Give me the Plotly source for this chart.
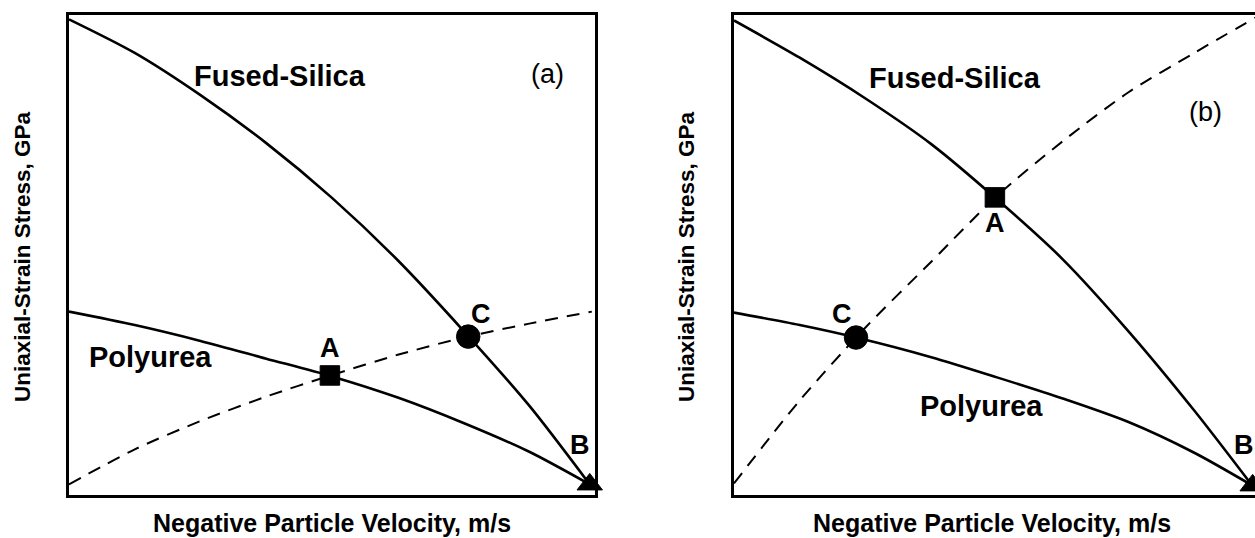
import plotly.graph_objects as go

# ---------------- data (arbitrary normalized units) ----------------
# Panel (a)
fs_a_vel = [0, 12.5, 25, 37.5, 50, 62.5, 75, 87.5, 99.0]
fs_a_stress = [99.0, 92.0, 83.2, 73.2, 61.8, 48.8, 34.1, 18.5, 2.1]
pu_a_vel = [0, 12.5, 25, 37.5, 50, 62.5, 75, 87.5, 99.0]
pu_a_stress = [38.1, 35.3, 32.0, 28.3, 24.6, 20.2, 14.9, 8.9, 2.1]
dash_a_vel = [0, 12.5, 25, 37.5, 50, 62.5, 75, 87.5, 99.4]
dash_a_stress = [2.1, 9.4, 15.3, 20.4, 24.9, 29.1, 32.7, 35.6, 38.1]
pts_a_labels = ["A", "C", "B"]
pts_a_vel = [49.6, 75.9, 99.0]
pts_a_stress = [24.8, 32.9, 2.1]

# Panel (b)
fs_b_vel = [0, 12.5, 25, 37.5, 50, 62.5, 75, 87.5, 98.5]
fs_b_stress = [98.75, 91.0, 82.5, 73.0, 61.5, 49.0, 34.0, 17.5, 1.9]
pu_b_vel = [0, 12.5, 23.2, 37.5, 50, 62.5, 75, 87.5, 98.5]
pu_b_stress = [37.9, 35.3, 32.7, 28.6, 24.4, 20.0, 15.1, 8.7, 1.9]
dash_b_vel = [0, 12.5, 25, 37.5, 50, 62.5, 75, 87.5, 99.2]
dash_b_stress = [2.3, 19.6, 34.8, 48.5, 62.2, 73.6, 83.8, 92.0, 99.4]
pts_b_labels = ["A", "C", "B"]
pts_b_vel = [49.6, 23.2, 98.6]
pts_b_stress = [61.9, 32.7, 1.9]

marker_symbols = ["square", "circle", "triangle-up"]
marker_sizes = [19.5, 23.5, 22]

FONT = "Liberation Sans, Arial, sans-serif"
W, H = 1255, 538

fig = go.Figure()

def add_panel(xa, ya, fsx, fsy, pux, puy, dx, dy, px, py):
    solid = dict(color="black", width=2.6, shape="spline", smoothing=0.8)
    fig.add_trace(go.Scatter(x=fsx, y=fsy, mode="lines", xaxis=xa, yaxis=ya,
                             line=solid, showlegend=False, hoverinfo="skip"))
    fig.add_trace(go.Scatter(x=pux, y=puy, mode="lines", xaxis=xa, yaxis=ya,
                             line=solid, showlegend=False, hoverinfo="skip"))
    fig.add_trace(go.Scatter(x=dx, y=dy, mode="lines", xaxis=xa, yaxis=ya,
                             line=dict(color="black", width=2, dash="13px,9px",
                                       shape="spline", smoothing=0.8),
                             showlegend=False, hoverinfo="skip"))
    fig.add_trace(go.Scatter(x=px, y=py, mode="markers", xaxis=xa, yaxis=ya,
                             marker=dict(symbol=marker_symbols, size=marker_sizes,
                                         color="black", opacity=1,
                                         line=dict(color="black", width=1)),
                             cliponaxis=False, showlegend=False, hoverinfo="skip"))

add_panel("x", "y", fs_a_vel, fs_a_stress, pu_a_vel, pu_a_stress,
          dash_a_vel, dash_a_stress, pts_a_vel, pts_a_stress)
add_panel("x2", "y2", fs_b_vel, fs_b_stress, pu_b_vel, pu_b_stress,
          dash_b_vel, dash_b_stress, pts_b_vel, pts_b_stress)

y_dom = [(H - 494.5) / H, (H - 14.5) / H]
ax_common = dict(showgrid=False, zeroline=False, showticklabels=False, ticks="",
                 showline=True, linecolor="black", linewidth=3)

fig.update_layout(
    width=W, height=H,
    margin=dict(l=0, r=0, t=0, b=0),
    paper_bgcolor="white", plot_bgcolor="white",
    showlegend=False,
    xaxis=dict(domain=[69 / W, 595 / W], range=[0, 100], mirror=True, **ax_common),
    yaxis=dict(domain=y_dom, range=[0, 100], mirror=True, **ax_common),
    xaxis2=dict(domain=[734 / W, 1.0], range=[0, (W - 734) / 526 * 100], mirror=True,
                anchor="y2", **ax_common),
    yaxis2=dict(domain=y_dom, range=[0, 100], mirror=False, anchor="x2", **ax_common),
)

def txt(text, x, y, xref, yref, size, bold=True, angle=0):
    fig.add_annotation(text=f"<b>{text}</b>" if bold else text, x=x, y=y,
                       xref=xref, yref=yref, showarrow=False, textangle=angle,
                       font=dict(family=FONT, size=size, color="black"),
                       xanchor="center", yanchor="middle")

# panel (a) labels
txt("Fused-Silica", 40.2, 87.1, "x", "y", 29)
txt("(a)", 90.9, 87.5, "x", "y", 27, bold=False)
txt("Polyurea", 15.4, 28.75, "x", "y", 29)
for lab, lx, ly in zip(pts_a_labels, [49.6, 78.3, 97.1], [30.6, 37.7, 10.4]):
    txt(lab, lx, ly, "x", "y", 27)

# panel (b) labels
txt("Fused-Silica", 42.0, 86.7, "x2", "y2", 29)
txt("(b)", 89.7, 79.6, "x2", "y2", 27, bold=False)
txt("Polyurea", 47.1, 18.5, "x2", "y2", 29)
for lab, lx, ly in zip(pts_b_labels, [49.6, 20.5, 97.0], [56.5, 37.7, 10.4]):
    txt(lab, lx, ly, "x2", "y2", 27)

# axis titles
xt = "Negative Particle Velocity, m/s"
yt = "Uniaxial-Strain Stress, GPa"
txt(xt, 332 / W, (H - 523) / H, "paper", "paper", 25)
txt(xt, 992 / W, (H - 523) / H, "paper", "paper", 25)
txt(yt, 22 / W, (H - 257) / H, "paper", "paper", 22.5, angle=-90)
txt(yt, 686 / W, (H - 257) / H, "paper", "paper", 22.5, angle=-90)

fig.write_html("out.html")
